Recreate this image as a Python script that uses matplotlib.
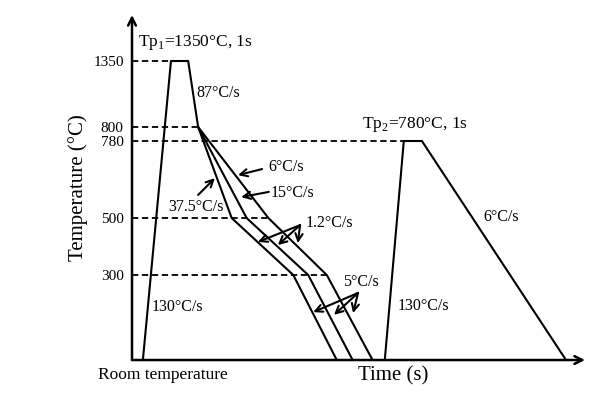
import numpy as np
import matplotlib
matplotlib.use("Agg")
import matplotlib.pyplot as plt
from matplotlib.ticker import NullLocator

plt.rcParams['font.family'] = ['Liberation Serif', 'DejaVu Serif']
plt.rcParams['mathtext.fontset'] = 'custom'
plt.rcParams['mathtext.rm'] = 'Liberation Serif'

# schematic temperature axis (not linear): temperature -> height
temp_knots = [25, 300, 500, 780, 800, 1350, 1750]
pos_knots = [0, 85, 142, 219, 233, 299, 345]

# temperature levels marked on the y axis
tick_temps = [300, 500, 780, 800, 1350]
tick_labels = ['300', '500', '780', '800', '1350']
room = 25

# first cycle: heating to Tp1, hold, cool to 800
cycle1_t = [2.4, 8.6, 12.4, 14.6]
cycle1_T = [room, 1350, 1350, 800]

# three cooling paths from 800 (37.5/15/6 C/s, then 1.2 C/s, then 5 C/s)
path_T = [800, 500, 300, room]
path_fast_t = [14.6, 22.0, 35.6, 45.2]
path_mid_t = [14.6, 25.3, 38.9, 48.7]
path_slow_t = [14.6, 30.1, 43.0, 53.1]

# second cycle: heating to Tp2, hold, cool at 6 C/s
cycle2_t = [55.8, 60.0, 64.0, 95.8]
cycle2_T = [room, 780, 780, room]

# dashed guide lines: level and where they end
guide_T = [1350, 800, 780, 500, 300]
guide_end = [8.6, 14.6, 60.0, 30.1, 43.0]


def fwd(T):
    return np.interp(T, temp_knots, pos_knots)


def inv(p):
    return np.interp(p, pos_knots, temp_knots)


fig = plt.figure(figsize=(6.16, 3.99), dpi=100)
ax = fig.add_axes([0.2143, 0.0977, 0.7354, 0.8647])
ax.set_yscale('function', functions=(fwd, inv))
ax.set_xlim(0, 100)
ax.set_ylim(room, 1750)

for s in ax.spines.values():
    s.set_visible(False)

ax.set_xticks([])
ax.set_yticks(tick_temps)
ax.set_yticklabels(tick_labels)
ax.yaxis.set_minor_locator(NullLocator())
ax.tick_params(axis='y', length=0, pad=6, labelsize=11)

# axes with arrow heads
arrow_ax = dict(arrowstyle='->', lw=1.8, color='black', shrinkA=0, shrinkB=0, mutation_scale=14)
ax.annotate('', xy=(0, 1), xytext=(0, 0), xycoords='axes fraction', arrowprops=arrow_ax,
            annotation_clip=False)
ax.annotate('', xy=(1, 0), xytext=(0, 0), xycoords='axes fraction', arrowprops=arrow_ax,
            annotation_clip=False)

# dashed guides
for T, tend in zip(guide_T, guide_end):
    ax.plot([0, tend], [T, T], color='black', lw=1.3, ls=(0, (3.5, 2)))

lw = 1.5
ax.plot(cycle1_t, cycle1_T, color='black', lw=lw)
ax.plot(path_fast_t, path_T, color='black', lw=lw)
ax.plot(path_mid_t, path_T, color='black', lw=lw)
ax.plot(path_slow_t, path_T, color='black', lw=lw)
ax.plot(cycle2_t, cycle2_T, color='black', lw=lw)

fs = 11.5
ax.text(1.3, 1515, r'Tp$_{\mathrm{1}}$=1350°C, 1s', fontsize=12.5, va='center')
ax.text(14.3, 1083, '87°C/s', fontsize=fs, va='center')
ax.text(50.8, 817, r'Tp$_{\mathrm{2}}$=780°C, 1s', fontsize=12.5, va='center')
ax.text(4.4, 196, '130°C/s', fontsize=fs, va='center')
ax.text(58.7, 200, '130°C/s', fontsize=fs, va='center')
ax.text(77.5, 504, '6°C/s', fontsize=fs, va='center')

arr = dict(arrowstyle='->', lw=1.5, color='black', shrinkA=0, shrinkB=0, mutation_scale=13)
ax.text(30.2, 685, '6°C/s', fontsize=fs, va='center')
ax.annotate('', xy=(23.4, 656), xytext=(28.7, 678), arrowprops=arr)
ax.text(30.7, 591, '15°C/s', fontsize=fs, va='center')
ax.annotate('', xy=(24.1, 576), xytext=(30.2, 595), arrowprops=arr)
ax.text(7.9, 540, '37.5°C/s', fontsize=fs, va='center')
ax.annotate('', xy=(18.3, 645), xytext=(14.6, 584), arrowprops=arr)

ax.text(38.4, 482, '1.2°C/s', fontsize=fs, va='center')
for hx, hT in [(27.8, 416), (32.2, 405), (36.6, 412)]:
    ax.annotate('', xy=(hx, hT), xytext=(37.1, 475), arrowprops=arr)

ax.text(46.6, 277, '5°C/s', fontsize=fs, va='center')
for hx, hT in [(40.0, 180), (44.6, 171), (48.8, 177)]:
    ax.annotate('', xy=(hx, hT), xytext=(49.9, 242), arrowprops=arr)

ax.text(-0.075, -0.043, 'Room temperature', transform=ax.transAxes, fontsize=12.5,
        va='center', ha='left')
ax.set_xlabel('Time (s)', fontsize=15)
ax.xaxis.set_label_coords(0.577, -0.018)
ax.set_ylabel('Temperature (°C)', fontsize=15)
ax.yaxis.set_label_coords(-0.098, 0.5)

fig.savefig('out.png', dpi=100)
